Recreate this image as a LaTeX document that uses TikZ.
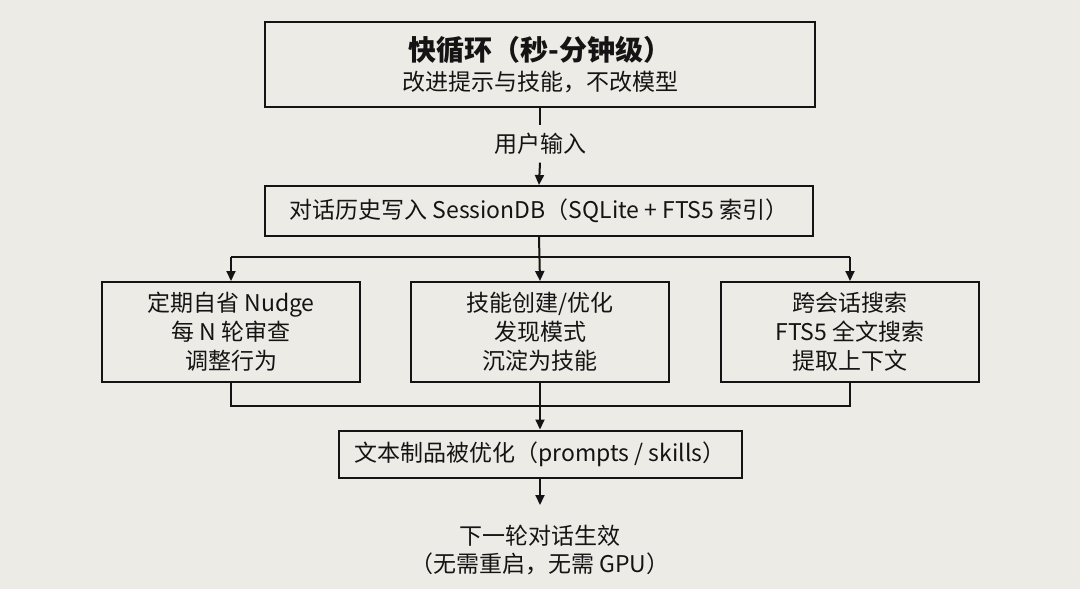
\documentclass[tikz,border=0pt]{standalone}
\usepackage{fontspec}
\setmainfont{Noto Sans CJK SC}
\usetikzlibrary{arrows.meta}
\definecolor{bgc}{HTML}{ECEBE6}
\definecolor{ink}{HTML}{141414}
\tikzset{
  box/.style={draw=ink, line width=2pt, fill=none, inner sep=0pt, align=center, text=ink},
  lbl/.style={inner sep=0pt, align=center, text=ink, font=\fontsize{23}{29}\selectfont},
  conn/.style={draw=ink, line width=2pt},
  arr/.style={conn, -{Triangle[length=10pt,width=9pt]}},
}
\begin{document}
\begin{tikzpicture}[x=1pt,y=-1pt]
\fill[bgc] (0,0) rectangle (1080,589);
\useasboundingbox (0,0) rectangle (1080,589);
% top box
\node[box, minimum width=550pt, minimum height=85pt] (top) at (540,64) {};
\node[lbl, font=\fontsize{28}{32}\selectfont\bfseries] (ttl) at (540,50) {快循环（秒-分钟级）};
\node[lbl, font=\fontsize{23}{28}\selectfont] (sub) at (540,82) {改进提示与技能，不改模型};
% user input label
\node[lbl, minimum height=37pt] (uin) at (540,144) {用户输入};
% session box
\node[box, lbl, minimum width=548pt, minimum height=50pt] (sess) at (539,211) {对话历史写入 SessionDB（SQLite + FTS5 索引）};
% three boxes
\node[box, lbl, minimum width=258pt, minimum height=100pt] (b1) at (231,332) {定期自省 Nudge\\每 N 轮审查\\调整行为};
\node[box, lbl, minimum width=258pt, minimum height=100pt] (b2) at (540,332) {技能创建/优化\\发现模式\\沉淀为技能};
\node[box, lbl, minimum width=258pt, minimum height=100pt] (b3) at (850,332) {跨会话搜索\\FTS5 全文搜索\\提取上下文};
% optimized box
\node[box, lbl, minimum width=403pt, minimum height=47pt] (opt) at (540,454) {文本制品被优化（prompts / skills）};
% final text
\node[lbl, font=\fontsize{23}{28}\selectfont] (fin) at (540,550) {下一轮对话生效\\（无需重启，无需 GPU）};
\coordinate (finn) at (540,505);
% connectors
\coordinate (j1) at (540,257);
\coordinate (j2) at (540,406);
\draw[conn] (top.south) -- (uin.north);
\draw[arr] (uin.south) -- (sess.north);
\draw[arr] (sess.south) -- (b2.north);
\draw[conn] (b1.north |- j1) -- (b3.north |- j1);
\draw[arr] (b1.north |- j1) -- (b1.north);
\draw[arr] (b3.north |- j1) -- (b3.north);
\draw[conn] (b1.south) -- (b1.south |- j2) -- (b3.south |- j2) -- (b3.south);
\draw[conn] (b2.south) -- (j2);
\draw[arr] (j2) -- (opt.north);
\draw[arr] (opt.south) -- (finn);
\end{tikzpicture}
\end{document}
